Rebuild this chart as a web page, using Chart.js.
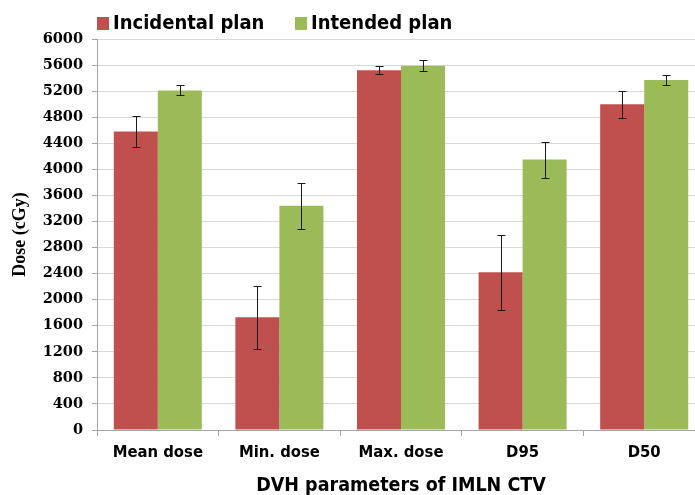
<!DOCTYPE html>
<html>
<head>
<meta charset="utf-8">
<script src="https://cdn.jsdelivr.net/npm/chart.js@4"></script>
<style>
    html, body { margin: 0; padding: 0; background: #fff; overflow: hidden; }
    #wrap { width: 705px; height: 495px; }
</style>
</head>
<body>
<div id="wrap"><canvas id="container" width="705" height="495"></canvas></div>
<script>
const categories = ['Mean dose', 'Min. dose', 'Max. dose', 'D95', 'D50'];
const incidental = [4580, 1730, 5520, 2420, 5000];
const intended = [5210, 3440, 5590, 4150, 5370];
const incidentalErr = [233, 485, 62, 575, 205];
const intendedErr = [77, 350, 87, 277, 77];

const narrow = "'Liberation Sans Narrow', 'DejaVu Sans Condensed', sans-serif";
const serif = "'Liberation Serif', 'DejaVu Serif', serif";

// draws the +/- error whiskers on top of each bar
const errorBars = {
    id: 'errorBars',
    afterDatasetsDraw(chart) {
        const ctx = chart.ctx;
        const y = chart.scales.y;
        chart.data.datasets.forEach((ds, i) => {
            const meta = chart.getDatasetMeta(i);
            meta.data.forEach((bar, j) => {
                const v = ds.data[j];
                const e = ds.errors[j];
                const top = Math.round(y.getPixelForValue(v + e)) + 0.5;
                const bot = Math.round(y.getPixelForValue(v - e)) + 0.5;
                const x = Math.round(bar.x) + 0.5;
                ctx.save();
                ctx.strokeStyle = '#1a1a1a';
                ctx.lineWidth = 1;
                ctx.beginPath();
                ctx.moveTo(x, top);
                ctx.lineTo(x, bot);
                ctx.moveTo(x - 4, top);
                ctx.lineTo(x + 4, top);
                ctx.moveTo(x - 4, bot);
                ctx.lineTo(x + 4, bot);
                ctx.stroke();
                ctx.restore();
            });
        });
    }
};

// legend drawn by hand so it can sit above the plot like the original
const topLegend = {
    id: 'topLegend',
    afterDraw(chart) {
        const ctx = chart.ctx;
        const starts = [97, 295];
        ctx.save();
        ctx.font = "bold 20px " + narrow;
        ctx.textBaseline = 'middle';
        chart.data.datasets.forEach((ds, i) => {
            const x = starts[i];
            ctx.fillStyle = ds.backgroundColor;
            ctx.fillRect(x, 17, 12, 13);
            ctx.fillStyle = '#000';
            ctx.fillText(ds.label, x + 16, 24);
        });
        ctx.restore();
    }
};

new Chart(document.querySelector('#container'), {
    type: 'bar',
    data: {
        labels: categories,
        datasets: [
            {
                label: 'Incidental plan',
                data: incidental,
                errors: incidentalErr,
                backgroundColor: '#C0504D',
                categoryPercentage: 0.724,
                barPercentage: 1
            },
            {
                label: 'Intended plan',
                data: intended,
                errors: intendedErr,
                backgroundColor: '#9BBB59',
                categoryPercentage: 0.724,
                barPercentage: 1
            }
        ]
    },
    options: {
        responsive: false,
        animation: false,
        layout: { padding: { left: 6, right: 0, top: 39, bottom: 0 } },
        plugins: {
            legend: { display: false },
            tooltip: { enabled: false }
        },
        scales: {
            x: {
                afterFit(scale) { scale.height = 65; },
                grid: {
                    drawOnChartArea: false,
                    tickLength: 6,
                    color: '#a6a6a6'
                },
                border: { color: '#a6a6a6' },
                ticks: {
                    color: '#000',
                    padding: 7,
                    font: { family: narrow, size: 16.5, weight: 'bold' }
                },
                title: {
                    display: true,
                    text: 'DVH parameters of IMLN CTV',
                    color: '#000',
                    padding: { top: 0, bottom: -3 },
                    font: { family: narrow, size: 19.5, weight: 'bold' }
                }
            },
            y: {
                min: 0,
                max: 6000,
                afterFit(scale) { scale.width = 91; },
                grid: {
                    color: '#d9d9d9',
                    tickLength: 5,
                    tickColor: '#a6a6a6'
                },
                border: { color: '#a6a6a6' },
                ticks: {
                    stepSize: 400,
                    color: '#000',
                    padding: 9,
                    callback: (v) => String(v),
                    font: { family: "'DejaVu Serif', serif", size: 14.5, weight: 'bold' }
                },
                title: {
                    display: true,
                    text: 'Dose (cGy)',
                    color: '#000',
                    padding: { top: 4, bottom: 0 },
                    font: { family: serif, size: 18, weight: 'bold' }
                }
            }
        }
    },
    plugins: [errorBars, topLegend]
});
</script>
</body>
</html>
